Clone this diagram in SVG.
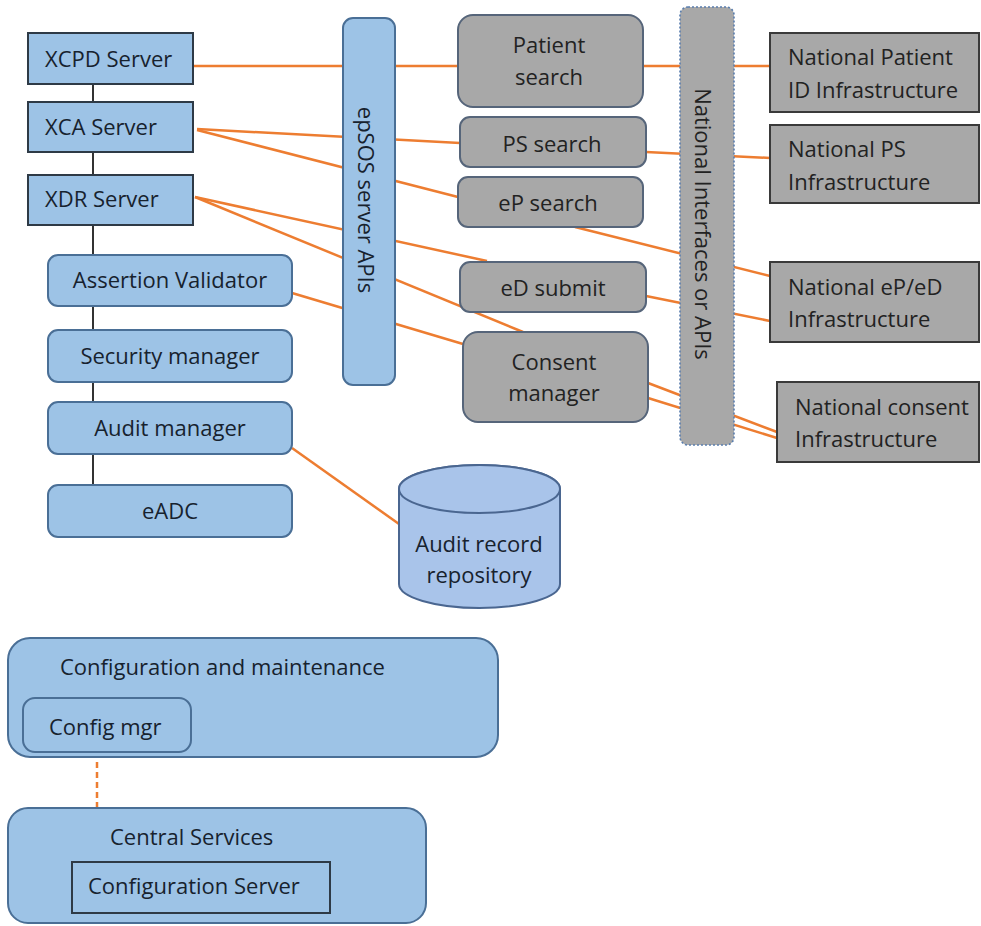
<svg xmlns="http://www.w3.org/2000/svg" width="981" height="926" viewBox="0 0 981 926">
<style>
.blue{fill:#9dc3e6;stroke:#4a6f96;stroke-width:2}
.bluesq{fill:#9dc3e6;stroke:#2e3a46;stroke-width:2}
.gray{fill:#a8a8a8;stroke:#56657a;stroke-width:2}
.graysq{fill:#a8a8a8;stroke:#3a3a3a;stroke-width:2}
.ni{fill:#a8a8a8;stroke:#5a7eae;stroke-width:1.6;stroke-dasharray:2 2}
.cyl{fill:#a9c4ea;stroke:#4a6690;stroke-width:2}
.conn{stroke:#ed7d31;stroke-width:2.5;fill:none}
.dash{stroke:#ed7d31;stroke-width:2.5;fill:none;stroke-dasharray:6 4}
.vline{stroke:#333;stroke-width:2}
text{font-family:"Open Sans",Lato,"Liberation Sans",sans-serif;font-size:22px}
.tb{fill:#17222e}
.tg{fill:#222}
.c{text-anchor:middle}
</style>

<g id="connectors">
  <line class="vline" x1="93" y1="84" x2="93" y2="485"/>
  <line class="conn" x1="193" y1="66" x2="458" y2="66"/>
  <line class="conn" x1="643" y1="66" x2="770" y2="66"/>
  <line class="conn" x1="197" y1="129" x2="460" y2="143"/>
  <line class="conn" x1="197" y1="130" x2="458" y2="197"/>
  <line class="conn" x1="646" y1="152" x2="770" y2="158"/>
  <line class="conn" x1="575" y1="227" x2="770" y2="276"/>
  <line class="conn" x1="195" y1="197" x2="487" y2="261"/>
  <line class="conn" x1="195" y1="197" x2="523" y2="332"/>
  <line class="conn" x1="292" y1="293" x2="463" y2="344"/>
  <line class="conn" x1="646" y1="296" x2="770" y2="321"/>
  <line class="conn" x1="648" y1="383" x2="777" y2="432"/>
  <line class="conn" x1="648" y1="398" x2="777" y2="438"/>
  <line class="conn" x1="292" y1="448" x2="399" y2="524"/>
  <line class="dash" x1="97" y1="752" x2="97" y2="862"/>
</g>

<g id="xcpd-server">
  <rect class="bluesq" x="28" y="33" width="165" height="51"/>
  <text class="tb" x="45" y="67">XCPD Server</text>
</g>
<g id="xca-server">
  <rect class="bluesq" x="28" y="102" width="165" height="50"/>
  <text class="tb" x="45" y="135">XCA Server</text>
</g>
<g id="xdr-server">
  <rect class="bluesq" x="28" y="175" width="165" height="50"/>
  <text class="tb" x="45" y="207">XDR Server</text>
</g>
<g id="assertion-validator">
  <rect class="blue" x="48" y="255" width="244" height="51" rx="10"/>
  <text class="tb c" x="170" y="288">Assertion Validator</text>
</g>
<g id="security-manager">
  <rect class="blue" x="48" y="330" width="244" height="52" rx="10"/>
  <text class="tb c" x="170" y="364">Security manager</text>
</g>
<g id="audit-manager">
  <rect class="blue" x="48" y="402" width="244" height="52" rx="10"/>
  <text class="tb c" x="170" y="436">Audit manager</text>
</g>
<g id="eadc">
  <rect class="blue" x="48" y="485" width="244" height="52" rx="10"/>
  <text class="tb c" x="170" y="519">eADC</text>
</g>

<g id="epsos-server-apis">
  <rect class="blue" x="343" y="18" width="52" height="367" rx="10"/>
  <text class="tb c" transform="translate(358,200) rotate(90)">epSOS server APIs</text>
</g>

<g id="patient-search">
  <rect class="gray" x="458" y="15" width="185" height="92" rx="15"/>
  <text class="tg c" x="549" y="53">Patient</text>
  <text class="tg c" x="549" y="85">search</text>
</g>
<g id="ps-search">
  <rect class="gray" x="460" y="117" width="186" height="50" rx="10"/>
  <text class="tg c" x="552" y="152">PS search</text>
</g>
<g id="ep-search">
  <rect class="gray" x="458" y="177" width="185" height="50" rx="10"/>
  <text class="tg c" x="548" y="211">eP search</text>
</g>
<g id="ed-submit">
  <rect class="gray" x="460" y="262" width="186" height="50" rx="10"/>
  <text class="tg c" x="553" y="296">eD submit</text>
</g>
<g id="consent-manager">
  <rect class="gray" x="463" y="332" width="185" height="90" rx="15"/>
  <text class="tg c" x="554" y="370">Consent</text>
  <text class="tg c" x="554" y="401">manager</text>
</g>

<g id="national-interfaces">
  <rect class="ni" x="680" y="7" width="54" height="438" rx="8"/>
  <text class="tg c" transform="translate(695,224) rotate(90)">National Interfaces or APIs</text>
</g>

<g id="national-patient-id">
  <rect class="graysq" x="770" y="33" width="209" height="79"/>
  <text class="tg" x="788" y="65">National Patient</text>
  <text class="tg" x="788" y="98">ID Infrastructure</text>
</g>
<g id="national-ps">
  <rect class="graysq" x="770" y="125" width="209" height="78"/>
  <text class="tg" x="788" y="157">National PS</text>
  <text class="tg" x="788" y="190">Infrastructure</text>
</g>
<g id="national-ep-ed">
  <rect class="graysq" x="770" y="262" width="209" height="80"/>
  <text class="tg" x="788" y="295">National eP/eD</text>
  <text class="tg" x="788" y="327">Infrastructure</text>
</g>
<g id="national-consent">
  <rect class="graysq" x="777" y="382" width="202" height="80"/>
  <text class="tg" x="795" y="415">National consent</text>
  <text class="tg" x="795" y="447">Infrastructure</text>
</g>

<g id="audit-record-repository">
  <path class="cyl" d="M399,489 V584 A80.5,24 0 0 0 560,584 V489 A80.5,24 0 0 0 399,489 Z"/>
  <ellipse class="cyl" cx="479.5" cy="489" rx="80.5" ry="24"/>
  <text class="tb c" x="479" y="552">Audit record</text>
  <text class="tb c" x="479" y="583">repository</text>
</g>

<g id="configuration-and-maintenance">
  <rect class="blue" x="8" y="638" width="490" height="119" rx="22"/>
  <text class="tb" x="60" y="675">Configuration and maintenance</text>
</g>
<g id="config-mgr">
  <rect class="blue" x="23" y="698" width="168" height="54" rx="12"/>
  <text class="tb" x="49" y="735">Config mgr</text>
</g>

<g id="central-services">
  <rect class="blue" x="8" y="808" width="418" height="115" rx="20"/>
  <text class="tb" x="110" y="845">Central Services</text>
</g>
<g id="configuration-server">
  <rect class="bluesq" x="72" y="862" width="258" height="51"/>
  <text class="tb" x="88" y="894">Configuration Server</text>
</g>
</svg>
